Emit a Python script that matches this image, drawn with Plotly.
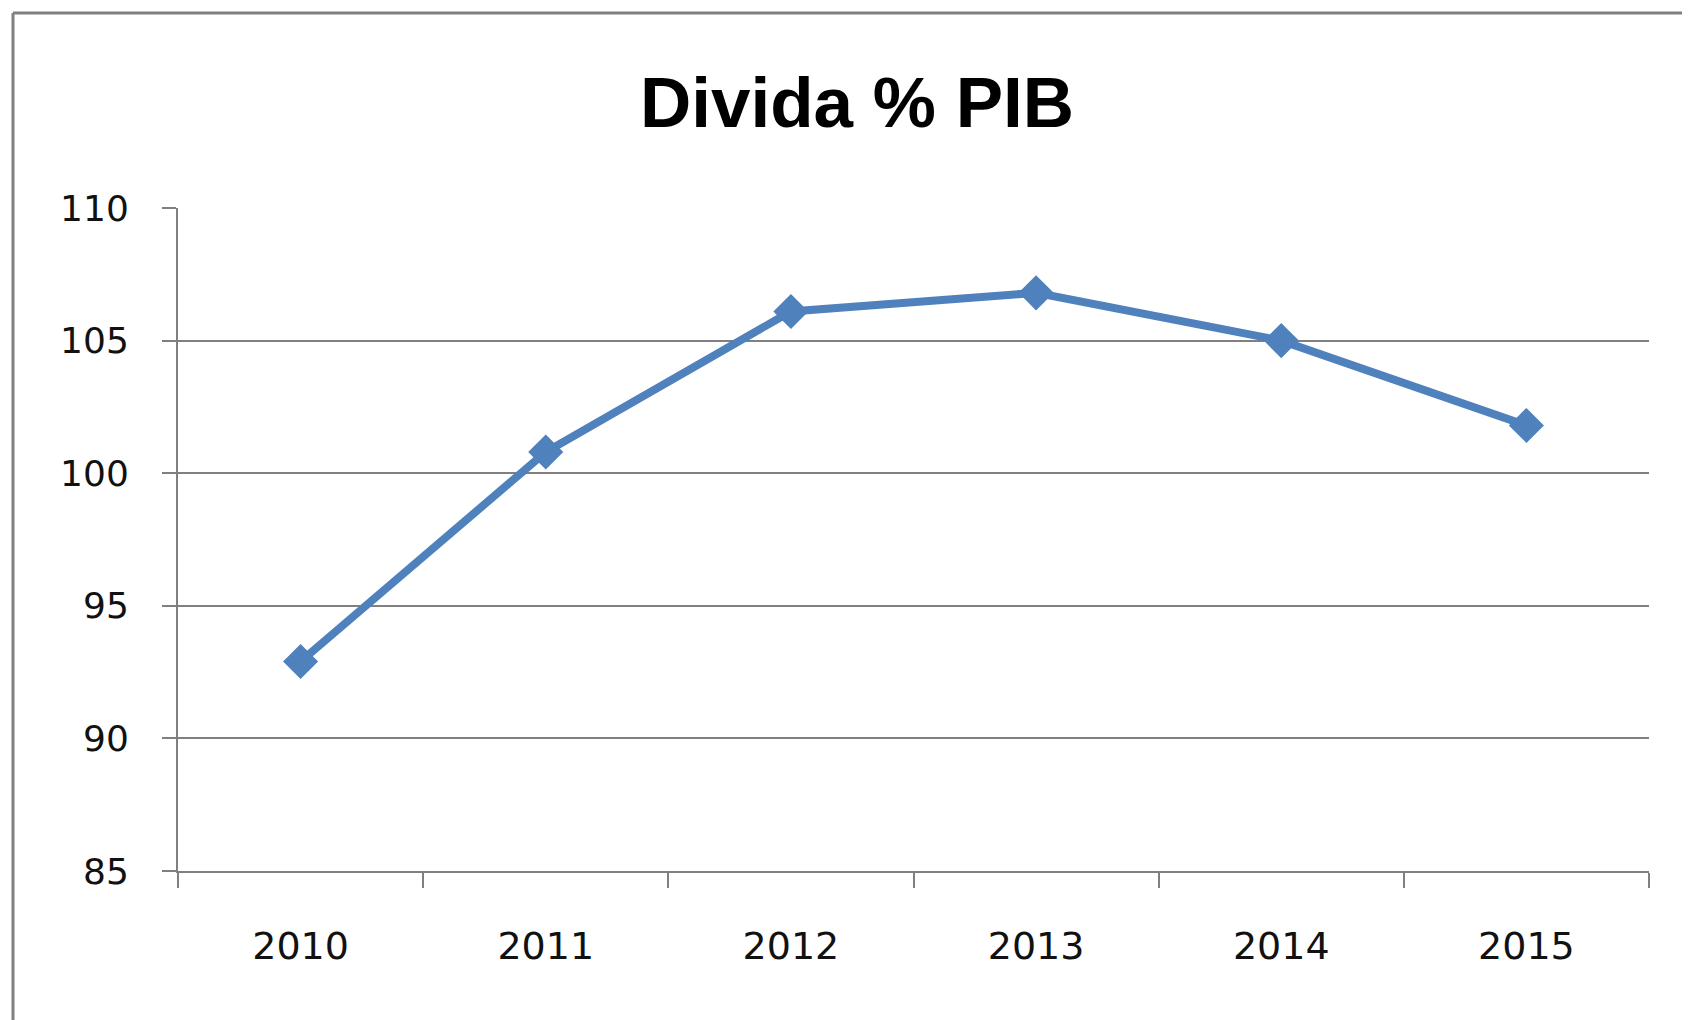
import plotly.graph_objects as go

years = ["2010", "2011", "2012", "2013", "2014", "2015"]
debt_pct_gdp = [92.9, 100.8, 106.1, 106.8, 105.0, 101.8]
y_ticks = [85, 90, 95, 100, 105, 110]
title_text = "Divida % PIB"

# page has 8px body margin; work in figure coordinates
W, H = 1682, 1012
ml, mr, mt, mb = 170, 41, 200, 149
pw, ph = W - ml - mr, H - mt - mb

def px_x(p):
    return (p - ml) / pw

def px_y(p):
    return (H - mb - p) / ph

grid = "#808080"
blue = "#4F81BD"

fig = go.Figure()
fig.add_trace(go.Scatter(
    x=years, y=debt_pct_gdp, mode="lines+markers",
    line=dict(color=blue, width=8),
    marker=dict(symbol="diamond", size=27, color=blue),
    showlegend=False, hoverinfo="x+y",
))

fig.update_layout(
    width=W, height=H,
    margin=dict(l=ml, r=mr, t=mt, b=mb),
    paper_bgcolor="white", plot_bgcolor="white",
    title=dict(text=title_text, x=849 / W, xanchor="center", y=1 - 94 / H,
               yanchor="middle", xref="container", yref="container",
               font=dict(family="Liberation Sans", size=71, color="black", weight="bold")),
    xaxis=dict(
        type="category", range=[-0.5, 5.5], showgrid=False,
        showline=True, linecolor=grid, linewidth=2,
        ticks="outside", ticklen=15, tickcolor=grid, tickwidth=2,
        tickson="boundaries", ticklabelstandoff=40,
        tickfont=dict(family="DejaVu Sans", size=38, color="#111111"),
    ),
    yaxis=dict(
        range=[85, 110], tickvals=y_ticks,
        showgrid=True, gridcolor=grid, gridwidth=2,
        showline=True, linecolor=grid, linewidth=2,
        ticks="outside", ticklen=14, tickcolor=grid, tickwidth=2,
        ticklabelstandoff=26, zeroline=False,
        tickfont=dict(family="DejaVu Sans", size=36, color="#111111"),
    ),
    shapes=[
        dict(type="line", xref="paper", yref="paper",
             x0=px_x(5), x1=px_x(5), y0=px_y(5), y1=px_y(H + 5),
             line=dict(color=grid, width=3)),
        dict(type="line", xref="paper", yref="paper",
             x0=px_x(5), x1=px_x(W + 5), y0=px_y(5), y1=px_y(5),
             line=dict(color=grid, width=3)),
    ],
)

fig.write_html("out.html")
